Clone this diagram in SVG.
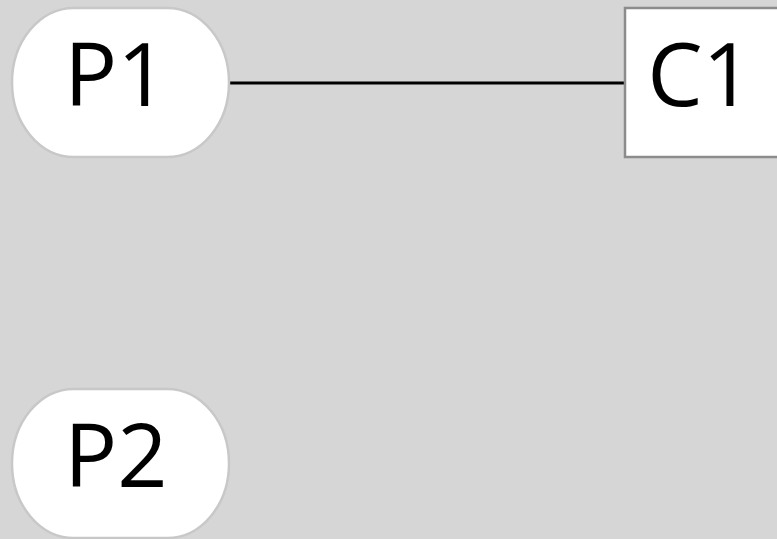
<svg xmlns="http://www.w3.org/2000/svg" width="777" height="539" viewBox="0 0 777 539">
<style>
.pill{fill:#fff;stroke:#c8c8c8;stroke-width:2.5}
.box{fill:#fff;stroke:#8c8c8c;stroke-width:2.5}
.lbl{font-family:"Open Sans","DejaVu Sans",sans-serif;font-size:88px;fill:#000;text-anchor:middle}
.edge{stroke:#000;stroke-width:3;fill:none}
</style>
<rect width="777" height="539" fill="#d6d6d6"/>
<g id="connectors">
<line class="edge" x1="229" y1="83" x2="625" y2="83"/>
</g>
<g id="P1">
<rect class="pill" x="12" y="8" width="217" height="149" rx="62" ry="74.5"/>
<text class="lbl" x="116" y="106">P1</text>
</g>
<g id="C1">
<rect class="box" x="625" y="8" width="170" height="149"/>
<text class="lbl" x="700" y="106">C1</text>
</g>
<g id="P2">
<rect class="pill" x="12" y="389" width="217" height="149" rx="62" ry="74.5"/>
<text class="lbl" x="116" y="487">P2</text>
</g>
</svg>
